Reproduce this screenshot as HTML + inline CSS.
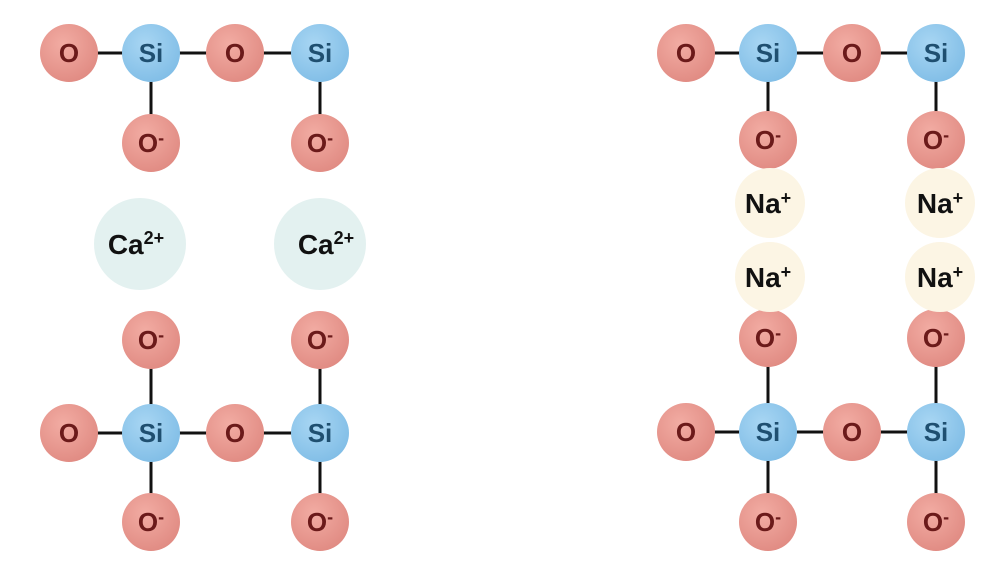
<!DOCTYPE html><html><head><style>body{margin:0;background:#fff}</style></head><body>
<svg width="1000" height="566" viewBox="0 0 1000 566" xmlns="http://www.w3.org/2000/svg" font-family="Liberation Sans, sans-serif" font-weight="bold">
<defs>
<radialGradient id="go" cx="40%" cy="35%" r="70%"><stop offset="0" stop-color="#f2aca3"/><stop offset="1" stop-color="#e08a82"/></radialGradient>
<radialGradient id="gs" cx="40%" cy="35%" r="70%"><stop offset="0" stop-color="#a8d6f3"/><stop offset="1" stop-color="#80bde6"/></radialGradient>
</defs>
<g stroke="#111" stroke-width="3">
<line x1="69" y1="53" x2="320" y2="53"/><line x1="151" y1="53" x2="151" y2="143"/><line x1="320" y1="53" x2="320" y2="143"/>
<line x1="69" y1="433" x2="320" y2="433"/><line x1="151" y1="340" x2="151" y2="522"/><line x1="320" y1="340" x2="320" y2="522"/>
<line x1="686" y1="53" x2="936" y2="53"/><line x1="768" y1="53" x2="768" y2="140"/><line x1="936" y1="53" x2="936" y2="140"/>
<line x1="686" y1="432" x2="936" y2="432"/><line x1="768" y1="338" x2="768" y2="522"/><line x1="936" y1="338" x2="936" y2="522"/>
</g>
<g font-size="26" text-anchor="middle">
<g fill="url(#go)">
<circle cx="69" cy="53" r="29"/><circle cx="235" cy="53" r="29"/><circle cx="151" cy="143" r="29"/><circle cx="320" cy="143" r="29"/>
<circle cx="151" cy="340" r="29"/><circle cx="320" cy="340" r="29"/><circle cx="69" cy="433" r="29"/><circle cx="235" cy="433" r="29"/><circle cx="151" cy="522" r="29"/><circle cx="320" cy="522" r="29"/>
<circle cx="686" cy="53" r="29"/><circle cx="852" cy="53" r="29"/><circle cx="768" cy="140" r="29"/><circle cx="936" cy="140" r="29"/>
<circle cx="768" cy="338" r="29"/><circle cx="936" cy="338" r="29"/><circle cx="686" cy="432" r="29"/><circle cx="852" cy="432" r="29"/><circle cx="768" cy="522" r="29"/><circle cx="936" cy="522" r="29"/>
</g>
<g fill="url(#gs)">
<circle cx="151" cy="53" r="29"/><circle cx="320" cy="53" r="29"/><circle cx="151" cy="433" r="29"/><circle cx="320" cy="433" r="29"/>
<circle cx="768" cy="53" r="29"/><circle cx="936" cy="53" r="29"/><circle cx="768" cy="432" r="29"/><circle cx="936" cy="432" r="29"/>
</g>
<g fill="#e3f1f0"><circle cx="140" cy="244" r="46"/><circle cx="320" cy="244" r="46"/></g>
<g fill="#fcf5e4"><circle cx="770" cy="203" r="35"/><circle cx="940" cy="203" r="35"/><circle cx="770" cy="277" r="35"/><circle cx="940" cy="277" r="35"/></g>
<g fill="#6b1a1a">
<text x="69" y="62">O</text><text x="235" y="62">O</text><text x="69" y="442">O</text><text x="235" y="442">O</text>
<text x="686" y="62">O</text><text x="852" y="62">O</text><text x="686" y="441">O</text><text x="852" y="441">O</text>
<text x="151" y="152">O<tspan font-size="18" dy="-8">-</tspan></text><text x="320" y="152">O<tspan font-size="18" dy="-8">-</tspan></text>
<text x="151" y="349">O<tspan font-size="18" dy="-8">-</tspan></text><text x="320" y="349">O<tspan font-size="18" dy="-8">-</tspan></text>
<text x="151" y="531">O<tspan font-size="18" dy="-8">-</tspan></text><text x="320" y="531">O<tspan font-size="18" dy="-8">-</tspan></text>
<text x="768" y="149">O<tspan font-size="18" dy="-8">-</tspan></text><text x="936" y="149">O<tspan font-size="18" dy="-8">-</tspan></text>
<text x="768" y="347">O<tspan font-size="18" dy="-8">-</tspan></text><text x="936" y="347">O<tspan font-size="18" dy="-8">-</tspan></text>
<text x="768" y="531">O<tspan font-size="18" dy="-8">-</tspan></text><text x="936" y="531">O<tspan font-size="18" dy="-8">-</tspan></text>
</g>
<g fill="#1f4f70">
<text x="151" y="62">Si</text><text x="320" y="62">Si</text><text x="151" y="442">Si</text><text x="320" y="442">Si</text>
<text x="768" y="62">Si</text><text x="936" y="62">Si</text><text x="768" y="441">Si</text><text x="936" y="441">Si</text>
</g>
<g fill="#111">
<text x="136" y="254" font-size="28">Ca<tspan font-size="18" dy="-10">2+</tspan></text><text x="326" y="254" font-size="28">Ca<tspan font-size="18" dy="-10">2+</tspan></text>
<text x="768" y="213" font-size="28">Na<tspan font-size="18" dy="-9">+</tspan></text><text x="940" y="213" font-size="28">Na<tspan font-size="18" dy="-9">+</tspan></text>
<text x="768" y="287" font-size="28">Na<tspan font-size="18" dy="-9">+</tspan></text><text x="940" y="287" font-size="28">Na<tspan font-size="18" dy="-9">+</tspan></text>
</g>
</g>
</svg>
</body></html>
